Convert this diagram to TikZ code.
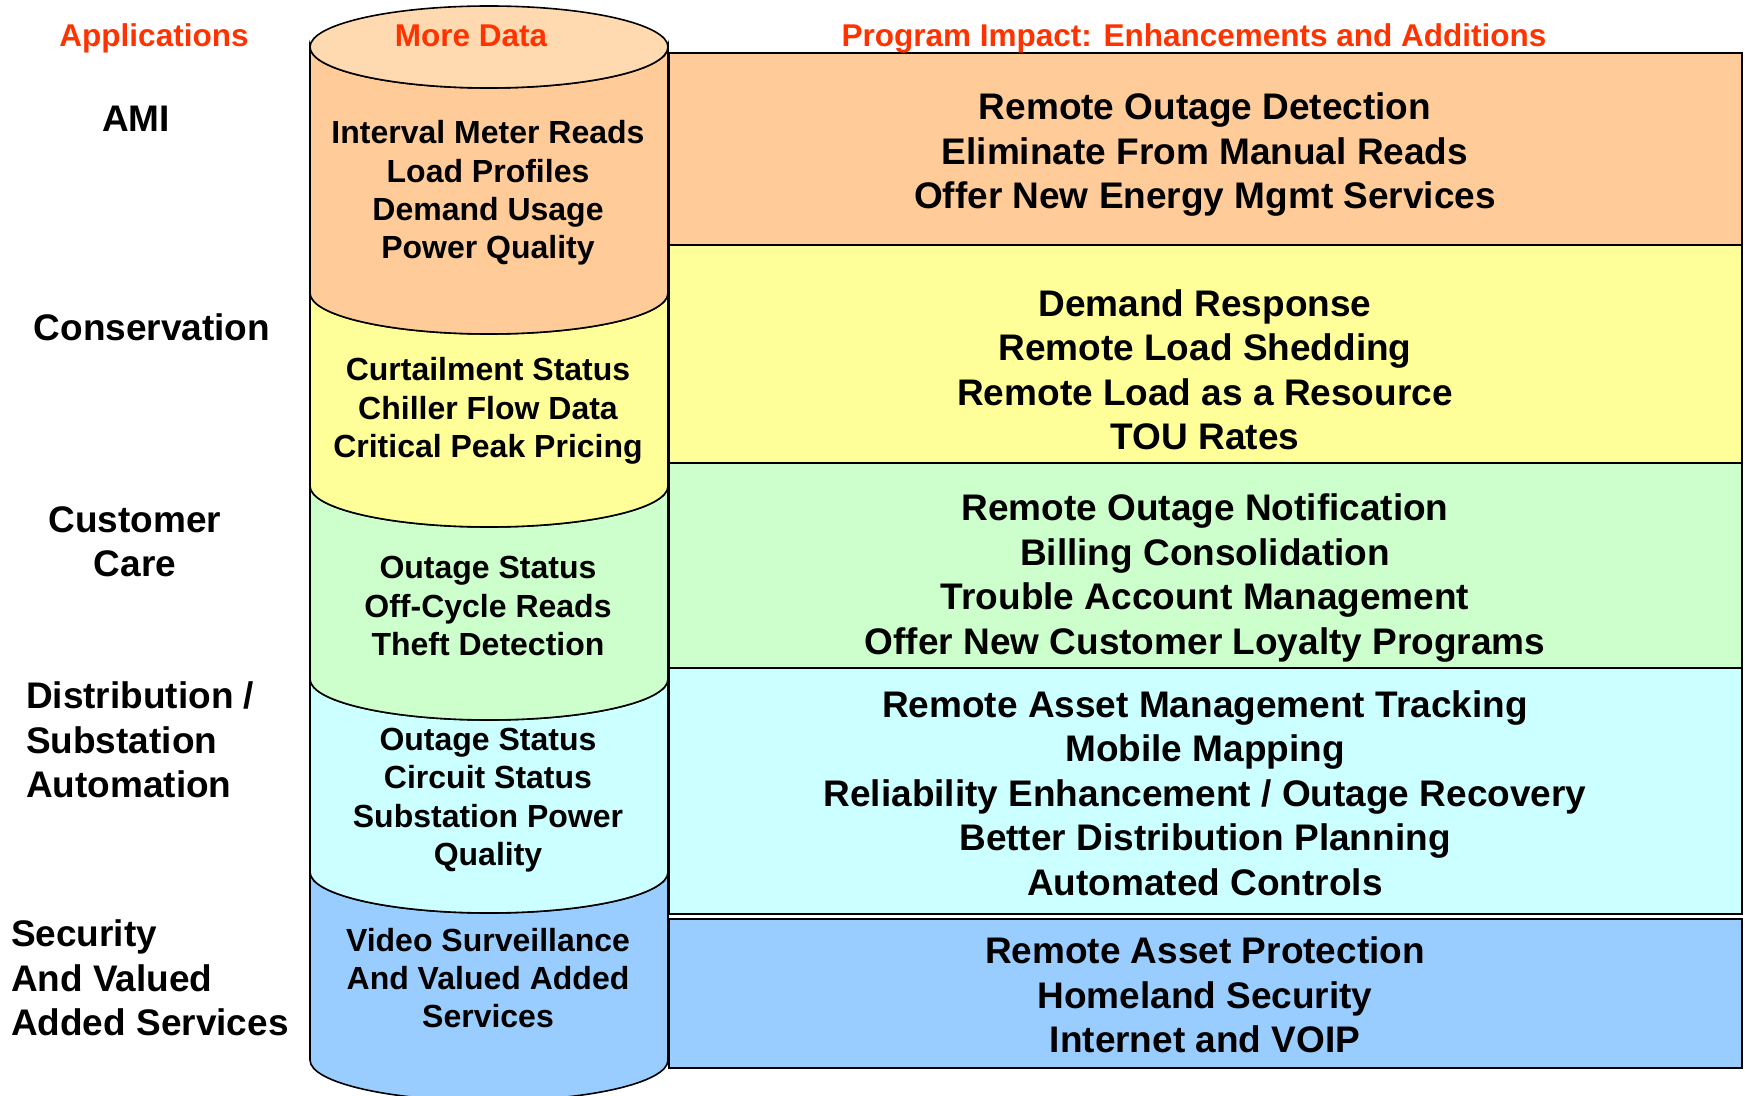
\documentclass[tikz,border=0pt]{standalone}
\usepackage{fontspec}
\setmainfont{Liberation Sans}

\definecolor{hdrred}{HTML}{FF3300}
\definecolor{amitop}{HTML}{FFD9B0}
\definecolor{amiorange}{HTML}{FFCC99}
\definecolor{consyellow}{HTML}{FFFF99}
\definecolor{caregreen}{HTML}{CCFFCC}
\definecolor{distcyan}{HTML}{CCFFFF}
\definecolor{secblue}{HTML}{99CCFF}

\begin{document}
\begin{tikzpicture}[x=0.5pt,y=-0.5pt,
  header/.style={text=hdrred,font=\fontsize{15.75}{18}\selectfont\bfseries},
  app/.style={align=center,font=\fontsize{18.5}{22.25}\selectfont\bfseries},
  data/.style={align=center,font=\fontsize{16}{19.2}\selectfont\bfseries},
  impact/.style={align=center,font=\fontsize{18.5}{22.25}\selectfont\bfseries},
  segment/.style={draw=black,line width=0.8pt},
  impactbox/.style={draw=black,line width=1pt}]

  \useasboundingbox (0,0) rectangle (1745,1096);

  % Cylinder: More Data
  \path[segment,fill=secblue] (310,872) arc[start angle=180,end angle=0,x radius=179,y radius=41]
    -- (668,1060) arc[start angle=0,end angle=180,x radius=179,y radius=41] -- cycle;
  \path[segment,fill=distcyan] (310,679) arc[start angle=180,end angle=0,x radius=179,y radius=41]
    -- (668,872) arc[start angle=0,end angle=180,x radius=179,y radius=41] -- cycle;
  \path[segment,fill=caregreen] (310,486) arc[start angle=180,end angle=0,x radius=179,y radius=41]
    -- (668,679) arc[start angle=0,end angle=180,x radius=179,y radius=41] -- cycle;
  \path[segment,fill=consyellow] (310,293) arc[start angle=180,end angle=0,x radius=179,y radius=41]
    -- (668,486) arc[start angle=0,end angle=180,x radius=179,y radius=41] -- cycle;
  \path[segment,fill=amiorange] (310,47) arc[start angle=180,end angle=0,x radius=179,y radius=41]
    -- (668,293) arc[start angle=0,end angle=180,x radius=179,y radius=41] -- cycle;
  \path[segment,fill=amitop] (489,47) ellipse[x radius=179,y radius=41];

  % Program Impact boxes
  \draw[impactbox,fill=amiorange] (669,53) rectangle (1742,245);
  \draw[impactbox,fill=consyellow] (669,245) rectangle (1742,463);
  \draw[impactbox,fill=caregreen] (669,463) rectangle (1742,668);
  \draw[impactbox,fill=distcyan] (669,668) rectangle (1742,914);
  \draw[impactbox,fill=secblue] (669,919) rectangle (1742,1068);

  % Headers
  \node[header,anchor=base] (hdr-app) at (154,47) {Applications};
  \node[header,anchor=base] (hdr-data) at (471,47) {More Data};
  \node[header,anchor=base] (hdr-impact) at (1194,47) {Program Impact: Enhancements and Additions};

  % Applications
  \node[app] (app-ami) at (136,119) {AMI};
  \node[app] (app-cons) at (152,327) {Conservation};
  \node[app] (app-care) at (135,542) {Customer\\ Care};
  \node[app,align=left,anchor=west] (app-dist) at (19,740) {Distribution /\\ Substation\\ Automation};
  \node[app,align=left,anchor=west] (app-sec) at (4,978) {Security\\ And Valued\\ Added Services};

  % More Data
  \node[data] (data-ami) at (488,193) {Interval Meter Reads\\ Load Profiles\\ Demand Usage\\ Power Quality};
  \node[data] (data-cons) at (488,411) {Curtailment Status\\ Chiller Flow Data\\ Critical Peak Pricing};
  \node[data] (data-care) at (488,606) {Outage Status\\ Off-Cycle Reads\\ Theft Detection};
  \node[data] (data-dist) at (488,800) {Outage Status\\ Circuit Status\\ Substation Power\\ Quality};
  \node[data] (data-sec) at (488,978) {Video Surveillance\\ And Valued Added\\ Services};

  % Program Impact
  \node[impact] (impact-ami) at (1205,155) {Remote Outage Detection\\ Eliminate From Manual Reads\\ Offer New Energy Mgmt Services};
  \node[impact] (impact-cons) at (1205,370) {Demand Response\\ Remote Load Shedding\\ Remote Load as a Resource\\ TOU Rates};
  \node[impact] (impact-care) at (1205,578) {Remote Outage Notification\\ Billing Consolidation\\ Trouble Account Management\\ Offer New Customer Loyalty Programs};
  \node[impact] (impact-dist) at (1205,793) {Remote Asset Management Tracking\\ Mobile Mapping\\ Reliability Enhancement / Outage Recovery\\ Better Distribution Planning\\ Automated Controls};
  \node[impact] (impact-sec) at (1205,995) {Remote Asset Protection\\ Homeland Security\\ Internet and VOIP};

\end{tikzpicture}
\end{document}
